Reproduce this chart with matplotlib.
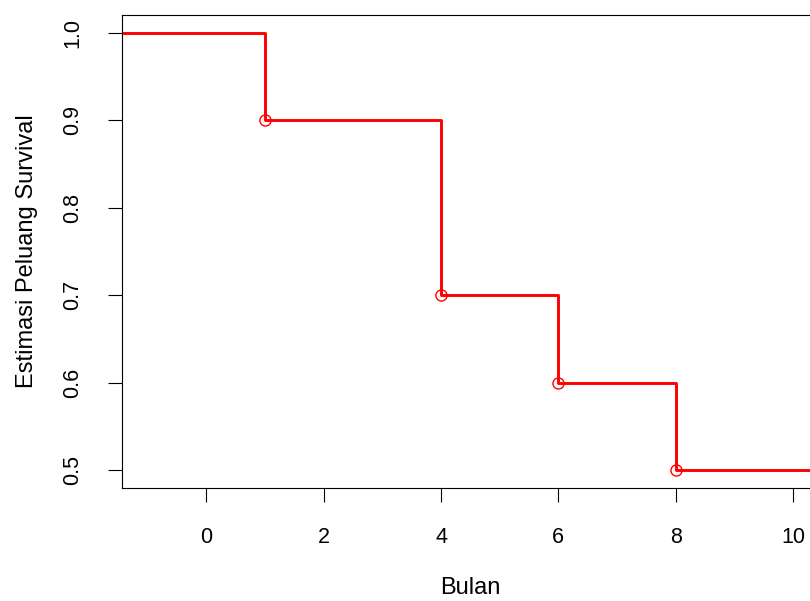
import numpy as np
import matplotlib
matplotlib.use("Agg")
import matplotlib.pyplot as plt

plt.rcParams['font.family'] = ['Liberation Sans', 'DejaVu Sans']

# waktu kejadian (bulan) dan estimasi peluang survival
bulan = [1, 4, 6, 8]
survival = [0.9, 0.7, 0.6, 0.5]
surv_awal = 1.0
x_ticks = [0, 2, 4, 6, 8, 10]
y_ticks = [0.5, 0.6, 0.7, 0.8, 0.9, 1.0]

xlim = (-1.44, 10.44)
ylim = (0.48, 1.02)

fig = plt.figure(figsize=(8.1, 6.01), dpi=100)
px = 58.65 / 810  # lebar 1 satuan x dalam fraksi figure
ax = fig.add_axes([122 / 810, 113 / 601, (xlim[1] - xlim[0]) * px, 473 / 601])

# kurva tangga
xs = np.concatenate([[xlim[0] - 1], bulan, [xlim[1] + 1]])
ys = np.concatenate([[surv_awal], survival, [survival[-1]]])
ax.step(xs, ys, where='post', color='red', lw=2.1)
ax.plot(bulan, survival, 'o', mfc='none', mec='red', ms=8, mew=1)

ax.set_xlim(xlim)
ax.set_ylim(ylim)
ax.set_xticks(x_ticks)
ax.set_yticks(y_ticks)
ax.set_yticklabels([f"{v:.1f}" for v in y_ticks], rotation=90, va='center')
ax.tick_params(length=10, width=0.8, labelsize=15.5)
ax.tick_params(axis='x', pad=18)
ax.tick_params(axis='y', pad=18)
for s in ax.spines.values():
    s.set_linewidth(0.8)

ax.set_xlabel('Bulan', fontsize=17, labelpad=21)
ax.set_ylabel('Estimasi Peluang Survival', fontsize=17, labelpad=17)

fig.savefig('out.png', dpi=100)
